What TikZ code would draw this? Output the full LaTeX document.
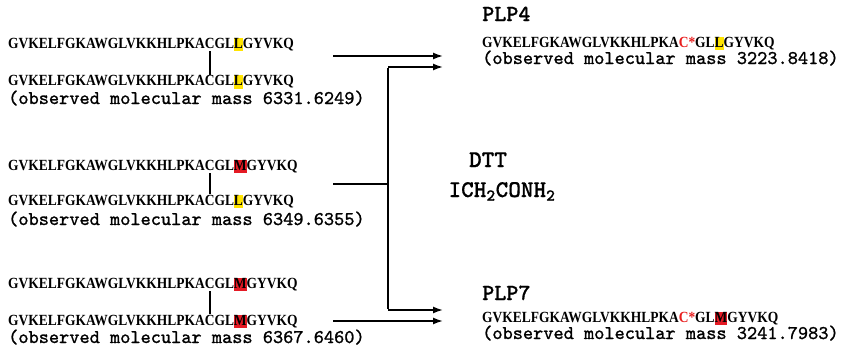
\documentclass[tikz,border=0pt]{standalone}
\usepackage{fontspec}
\usetikzlibrary{arrows.meta}
\newfontfamily\seqfont{Liberation Serif}[FakeStretch=0.87]
\newfontfamily\massfont{lmmono10-regular.otf}[FakeBold=1.2]
\newfontfamily\labfont{lmmonolt10-bold.otf}[FakeBold=0.6]
\definecolor{hly}{RGB}{255,228,0}
\definecolor{hlr}{RGB}{228,26,36}
\definecolor{txr}{RGB}{232,30,30}
\newcommand\hl[2]{{\setlength\fboxsep{0pt}\colorbox{#1}{\rule[-3pt]{0pt}{13.5pt}#2}}}
\begin{document}
\begin{tikzpicture}[x=1pt,y=-1pt,
  seq/.style={anchor=base west,inner sep=0pt,font=\seqfont\bfseries\fontsize{15.5}{15.5}\selectfont},
  mass/.style={anchor=base west,inner sep=0pt,font=\massfont\fontsize{19.4}{19.4}\selectfont},
  lab/.style={anchor=base west,inner sep=0pt,font=\labfont\fontsize{23}{23}\selectfont},
  reag/.style={anchor=base,inner sep=0pt,font=\labfont\fontsize{24}{24}\selectfont},
  bar/.style={line width=1.8pt},
  arr/.style={line width=1.6pt,-{Latex[length=10pt,width=7pt]}},
  ln/.style={line width=1.6pt}]
\useasboundingbox (0,0) rectangle (841,354);
% group 1
\node[seq] (s1a) at (8,48) {GVKELFGKAWGLVKKHLPKACGL\hl{hly}{L}GYVKQ};
\node[seq] (s1b) at (8,85.5) {GVKELFGKAWGLVKKHLPKACGL\hl{hly}{L}GYVKQ};
\node[mass] (m1) at (8,104) {(observed molecular mass 6331.6249)};
% group 2
\node[seq] (s2a) at (8,170) {GVKELFGKAWGLVKKHLPKACGL\hl{hlr}{M}GYVKQ};
\node[seq] (s2b) at (8,205) {GVKELFGKAWGLVKKHLPKACGL\hl{hly}{L}GYVKQ};
\node[mass] (m2) at (8,225) {(observed molecular mass 6349.6355)};
% group 3
\node[seq] (s3a) at (8,288) {GVKELFGKAWGLVKKHLPKACGL\hl{hlr}{M}GYVKQ};
\node[seq] (s3b) at (8,325) {GVKELFGKAWGLVKKHLPKACGL\hl{hlr}{M}GYVKQ};
\node[mass] (m3) at (8,343) {(observed molecular mass 6367.6460)};
% disulfide bars
\draw[bar] ([xshift=202pt]s1a.south west) -- ([xshift=202pt]s1b.north west);
\draw[bar] ([xshift=202pt]s2a.south west) -- ([xshift=202pt]s2b.north west);
\draw[bar] ([xshift=202pt]s3a.south west) -- ([xshift=202pt]s3b.north west);
% products
\node[lab] (p4) at (482,21) {PLP4};
\node[seq] (p4s) at (482,47) {GVKELFGKAWGLVKKHLPKA{\color{txr}C*}GL\hl{hly}{L}GYVKQ};
\node[mass] (p4m) at (482,64) {(observed molecular mass 3223.8418)};
\node[lab] (p7) at (482,300) {PLP7};
\node[seq] (p7s) at (482,322) {GVKELFGKAWGLVKKHLPKA{\color{txr}C*}GL\hl{hlr}{M}GYVKQ};
\node[mass] (p7m) at (482,339) {(observed molecular mass 3241.7983)};
% reagents
\node[reag] (dtt) at (488,167) {DTT};
\node[reag] (iac) at (502,197) {ICH\textsubscript{2}CONH\textsubscript{2}};
% arrows
\coordinate (a1s) at (333,56);
\coordinate (a1e) at (443,56);
\coordinate (a2s) at (333,184);
\coordinate (j) at (388,184);
\coordinate (vt) at (388,67);
\coordinate (vb) at (388,310);
\coordinate (a4e) at (443,67);
\coordinate (a7e) at (443,310);
\coordinate (a3s) at (333,321);
\coordinate (a3e) at (443,321);
\draw[arr] (a1s) -- (a1e);
\draw[arr] (a3s) -- (a3e);
\draw[ln] (a2s) -- (j);
\draw[arr] (vt) -- (a4e);
\draw[arr] (vb) -- (a7e);
\draw[ln] ([yshift=-0.8pt]vt) -- ([yshift=0.8pt]vb);
\end{tikzpicture}
\end{document}
